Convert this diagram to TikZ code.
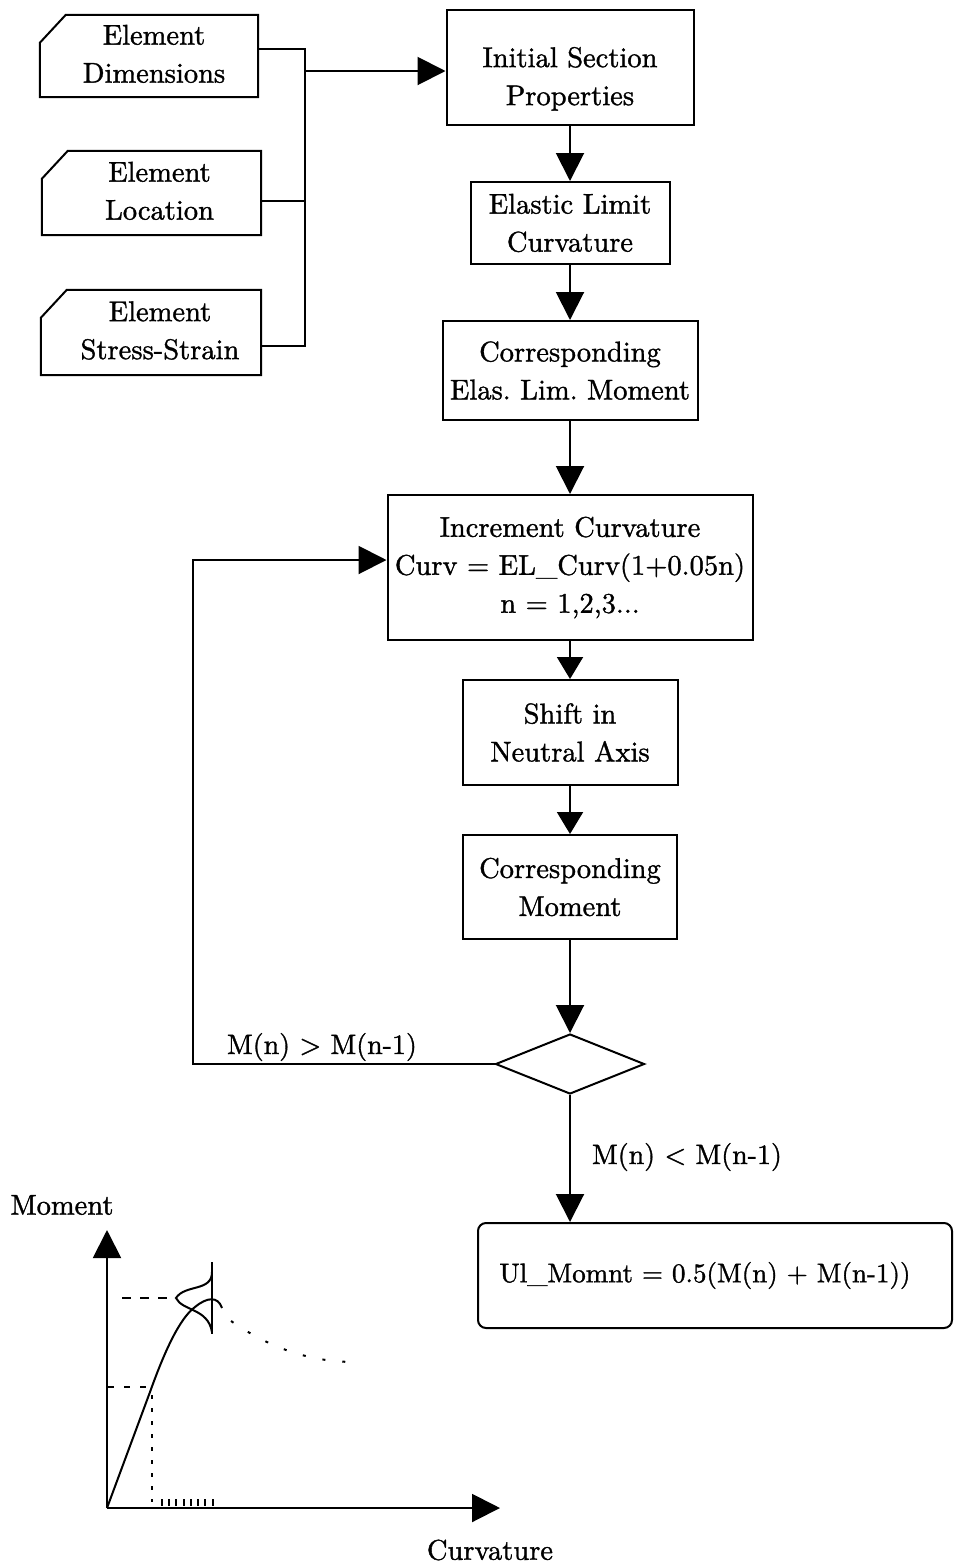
\documentclass[tikz,border=0pt]{standalone}
\usepackage{fontspec}
\setmainfont{lmroman10-regular.otf}[FakeBold=1.2]
\usetikzlibrary{arrows.meta,shapes.geometric}
\frenchspacing
\newcommand\fs{\fontsize{28.5}{38}\selectfont}
\newcommand\fsl{\fontsize{28}{34}\selectfont}
\newcommand\fsu{\fontsize{27}{34}\selectfont}
\newcommand\cardtext[2][0pt]{\hspace*{#1}\begin{tabular}{@{}c@{}}#2\end{tabular}}
\begin{document}
\begin{tikzpicture}[x=1pt,y=-1pt,
  ln/.style={line width=2pt},
  box/.style={draw,line width=2pt,rectangle,align=center,inner sep=0pt,font=\fs},
  card/.style={rectangle,inner sep=0pt,align=center,font=\fs},
  arr/.style={line width=2pt,-{Triangle[length=28pt,width=28pt]}},
  arrs/.style={line width=2pt,-{Triangle[length=22pt,width=26pt]}},
  lbl/.style={font=\fsl,inner sep=0pt},
  dotl/.style={line width=2pt,dash pattern=on 4pt off 9pt}]
\useasboundingbox (0,0) rectangle (954,1567);

% input cards
\node[card,minimum width=218pt,minimum height=82pt] (dim) at (149,56) {\cardtext[10pt]{Element\\Dimensions}};
\node[card,minimum width=219pt,minimum height=84pt] (loc) at (151.5,193) {\cardtext[16pt]{Element\\Location}};
\node[card,minimum width=220pt,minimum height=85pt] (sst) at (151,332.5) {\cardtext[18pt]{Element\\Stress-Strain}};
\foreach \n in {dim,loc,sst}{
  \draw[ln] ([yshift=-28pt]\n.north west) -- ([xshift=26pt]\n.north west) -- (\n.north east) -- (\n.south east) -- (\n.south west) -- cycle;
}

% main column
\node[box,minimum width=247pt,minimum height=115pt] (isp) at (570,67.5) {\raisebox{-11pt}[\height][\depth]{\begin{tabular}{@{}c@{}}Initial Section\\Properties\end{tabular}}};
\node[box,minimum width=199pt,minimum height=82pt] (elc) at (570,223) {Elastic Limit\\Curvature};
\node[box,minimum width=255pt,minimum height=99pt] (cel) at (570,370.5) {Corresponding\\Elas. Lim. Moment};
\node[box,minimum width=365pt,minimum height=145pt] (inc) at (570,567.5) {Increment Curvature\\Curv = EL\_Curv(1+0.05n)\\n = 1,2,3...};
\node[box,minimum width=215pt,minimum height=105pt] (sna) at (570,732.5) {Shift in\\Neutral Axis};
\node[box,minimum width=214pt,minimum height=104pt] (cm) at (570,887) {Corresponding\\Moment};
\node[diamond,draw,line width=2pt,minimum width=149pt,minimum height=60pt,inner sep=0pt] (dec) at (570,1064) {};
\node[box,rounded corners=8pt,minimum width=474pt,minimum height=105pt,font=\fsu] (ul) at (715,1275.5) {Ul\_Momnt = 0.5(M(n) + M(n-1))\hspace*{20pt}};

% input connectors
\coordinate (j1) at (305,49);
\coordinate (j2) at (305,201);
\coordinate (j3) at (305,346);
\coordinate (jm) at (305,71);
\draw[ln] (dim.east |- j1) -- (j1) -- (j3) -- (sst.east |- j3);
\draw[ln] (loc.east |- j2) -- (j2);
\draw[arr] (jm) -- (isp.west |- jm);

% main arrows
\draw[arr] (isp.south) -- (elc.north);
\draw[arr] (elc.south) -- (cel.north);
\draw[arr] (cel.south) -- (inc.north);
\draw[arrs] (inc.south) -- (sna.north);
\draw[arrs] (sna.south) -- (cm.north);
\draw[arr] (cm.south) -- (dec.north);
\draw[arr] (dec.south) -- (dec.south |- ul.north);

% loop back
\coordinate (lb) at (193,1064);
\coordinate (lt) at (193,560);
\draw[arr] (dec.west) -- (lb) -- (lt) -- (inc.west |- lt);
\node[lbl] (gt) at (322,1047) {M(n) > M(n-1)};
\node[lbl] (ls) at (687,1157) {M(n) < M(n-1)};

% moment-curvature sketch
\coordinate (o) at (107,1508);
\coordinate (ytip) at (107,1230);
\coordinate (xtip) at (500,1508);
\draw[arr] (o) -- (ytip);
\draw[arr] (o) -- (xtip);
\node[lbl,font=\fs] (ym) at (62,1205) {Moment};
\node[lbl,font=\fs] (xc) at (490,1550) {Curvature};
\draw[ln] (o) -- (150,1392) .. controls (165,1350) and (180,1318) .. (195,1307) .. controls (207,1297) and (218,1296) .. (222,1308);
\draw[ln] (212,1262) -- (212,1334);
\draw[ln] (212,1272) .. controls (212,1292) and (185,1284) .. (176,1298) .. controls (182,1311) and (208,1308) .. (212,1332);
\draw[line width=2pt,dash pattern=on 9pt off 9pt] (122,1298) -- (176,1298);
\draw[line width=2pt,dash pattern=on 6pt off 10pt] (108,1387) -- (150,1387);
\draw[dotl] (152,1395) -- (152,1502);
\draw[line width=2pt,dash pattern=on 3pt off 17pt] (231,1321) .. controls (270,1348) and (310,1362) .. (355,1362);
\foreach \x in {162,169,176,184,191,198,205,213}{\draw[line width=1.2pt] (\x,1499) -- (\x,1506);}
\end{tikzpicture}
\end{document}
